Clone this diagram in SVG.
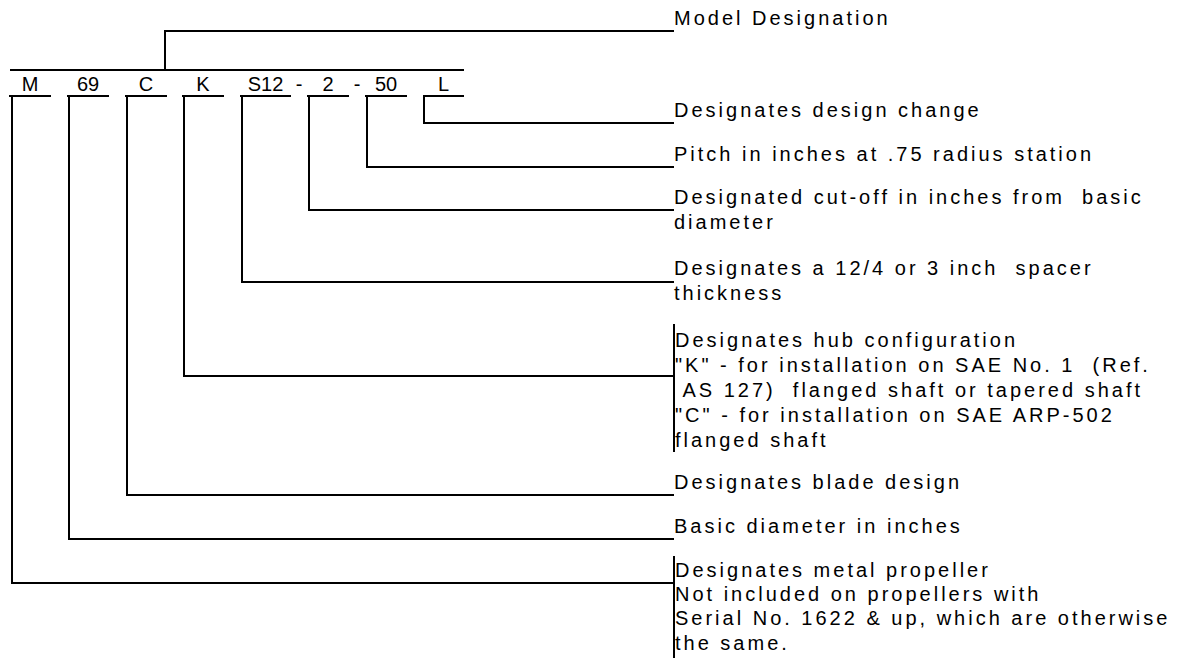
<svg xmlns="http://www.w3.org/2000/svg" width="1194" height="658" viewBox="0 0 1194 658" xml:space="preserve">
<style>
.ln{fill:none;stroke:#000;stroke-width:2;stroke-linecap:square}
.code{font-family:"Liberation Sans",Arial,sans-serif;font-size:20px;fill:#000;text-anchor:middle}
.lbl{font-family:"Liberation Sans",Arial,sans-serif;font-size:20px;letter-spacing:3px;fill:#000;white-space:pre}
</style>
<rect width="1194" height="658" fill="#fff"/>
<g id="connectors" class="ln">
<path d="M11,70 H463"/>
<path d="M165,70 V31 H673"/>
<path d="M10,96 H50 M12,96 V583 H673"/>
<path d="M68,96 H108 M69,96 V539 H673"/>
<path d="M126,96 H166 M127,96 V495 H673"/>
<path d="M183,96 H223 M184,96 V376 H673"/>
<path d="M241,96 H290 M242,96 V282 H673"/>
<path d="M308,96 H348 M309,96 V210 H673"/>
<path d="M366,96 H406 M367,96 V167 H673"/>
<path d="M424,96 H463 M424,96 V123 H673"/>
<path d="M674,325 V451"/>
<path d="M674,557 V657"/>
</g>
<g id="code-M"><text class="code" x="30" y="91">M</text></g>
<g id="code-69"><text class="code" x="88" y="91">69</text></g>
<g id="code-C"><text class="code" x="146" y="91">C</text></g>
<g id="code-K"><text class="code" x="203" y="91">K</text></g>
<g id="code-S12"><text class="code" x="265.5" y="91">S12</text></g>
<g id="dash1"><text class="code" x="299" y="91">-</text></g>
<g id="code-2"><text class="code" x="328" y="91">2</text></g>
<g id="dash2"><text class="code" x="357" y="91">-</text></g>
<g id="code-50"><text class="code" x="386" y="91">50</text></g>
<g id="code-L"><text class="code" x="443.5" y="91">L</text></g>
<g id="lbl-model"><text class="lbl" x="674" y="25">Model Designation</text></g>
<g id="lbl-change"><text class="lbl" x="674" y="117">Designates design change</text></g>
<g id="lbl-pitch"><text class="lbl" x="674" y="161">Pitch in inches at .75 radius station</text></g>
<g id="lbl-cutoff"><text class="lbl" x="674" y="204">Designated cut-off in inches from  basic</text><text class="lbl" x="674" y="229">diameter</text></g>
<g id="lbl-spacer"><text class="lbl" x="674" y="275">Designates a 12/4 or 3 inch  spacer</text><text class="lbl" x="674" y="300">thickness</text></g>
<g id="lbl-hub"><text class="lbl" x="675" y="347">Designates hub configuration</text><text class="lbl" x="675" y="372">"K" - for installation on SAE No. 1  (Ref.</text><text class="lbl" x="675" y="397"> AS 127)  flanged shaft or tapered shaft</text><text class="lbl" x="675" y="422">"C" - for installation on SAE ARP-502</text><text class="lbl" x="675" y="447">flanged shaft</text></g>
<g id="lbl-blade"><text class="lbl" x="674" y="489">Designates blade design</text></g>
<g id="lbl-diameter"><text class="lbl" x="674" y="533">Basic diameter in inches</text></g>
<g id="lbl-metal"><text class="lbl" x="675" y="577">Designates metal propeller</text><text class="lbl" x="675" y="601">Not included on propellers with</text><text class="lbl" x="675" y="625">Serial No. 1622 &amp; up, which are otherwise</text><text class="lbl" x="675" y="650">the same.</text></g>
</svg>
